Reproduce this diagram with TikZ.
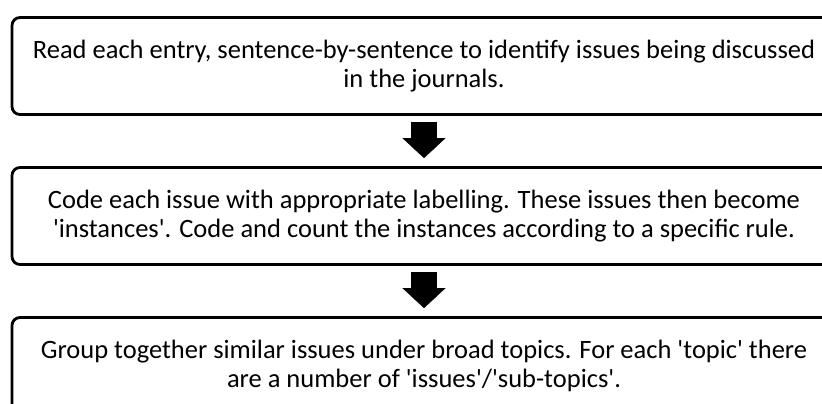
\documentclass[tikz,border=0pt]{standalone}
\usepackage{fontspec}
\setmainfont{Carlito}
\usetikzlibrary{positioning, arrows.meta}
\tikzstyle{process} = [rectangle, rounded corners=4pt, minimum width=412pt, minimum height=48.5pt, text centered, align=center, draw=black, line width=1.4pt, font=\fontsize{13.25}{14.5}\selectfont]
\tikzstyle{arrow} = [line width=13pt, -{Triangle[width=21.5pt,length=10pt,line width=0.1pt]}, shorten <=3pt, shorten >=4pt]
\newcommand{\sq}{\textquotesingle}

\begin{document}
\begin{tikzpicture}[node distance=75pt]
\path[use as bounding box, clip] (0,0) rectangle (411pt,-201.5pt);
\node (Read) [process] at (212pt,-33pt) {Read each entry, sentence-by-sentence to identify issues being discussed\\ in the journals.};
\node (Code) [process, below of=Read] {Code each issue with appropriate labelling. These issues then become\\ \sq instances\sq. Code and count the instances according to a specific rule.};
\node (Group) [process, below of=Code] {Group together similar issues under broad topics. For each \sq topic\sq{} there\\ are a number of \sq issues\sq/\sq sub-topics\sq.};

\draw [arrow] (Read) -- (Code);
\draw [arrow] (Code) -- (Group);
\end{tikzpicture}
\end{document}
